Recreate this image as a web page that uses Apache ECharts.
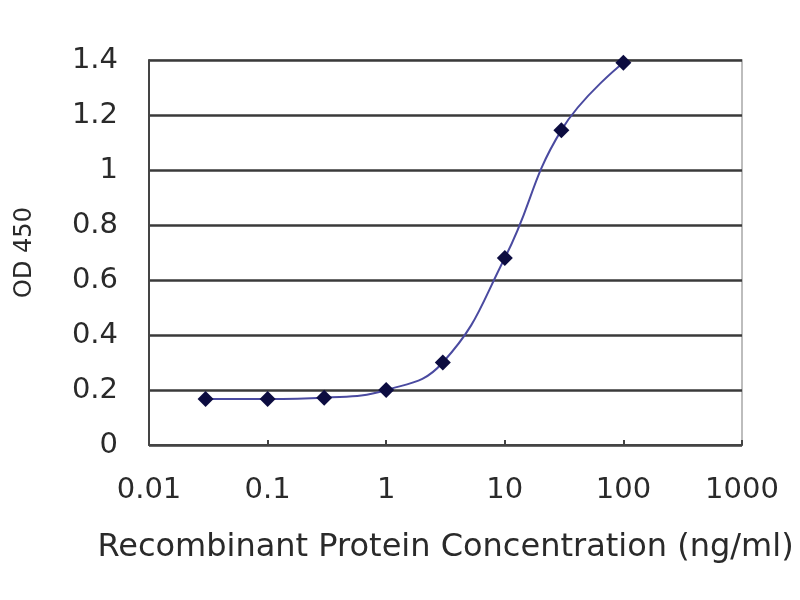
<!DOCTYPE html>
<html>
<head>
<meta charset="utf-8">
<script src="https://cdn.jsdelivr.net/npm/echarts@6/dist/echarts.min.js"></script>
<style>html,body{margin:0;padding:0;background:#fff;}#c{width:800px;height:600px;}</style>
</head>
<body>
<div id="c"></div>
<script>
var concentrations = [0.03, 0.1, 0.3, 1, 3, 10, 30, 100];
var od450 = [0.167, 0.167, 0.172, 0.2, 0.3, 0.68, 1.145, 1.39];
var xTickLabels = {0.01: '0.01', 0.1: '0.1', 1: '1', 10: '10', 100: '100', 1000: '1000'};
var xTitle = 'Recombinant Protein Concentration (ng/ml)';
var yTitle = 'OD 450';

var points = concentrations.map(function (c, i) { return [c, od450[i]]; });
var chart = echarts.init(document.getElementById('c'));
var font = 'DejaVu Sans';
chart.setOption({
  backgroundColor: '#ffffff',
  animation: false,
  grid: { left: 149, right: 58, top: 60, bottom: 155, show: true, borderColor: '#a8a8a8', borderWidth: 1.5, backgroundColor: '#fff' },
  xAxis: {
    type: 'log', logBase: 10, min: 0.01, max: 1000,
    name: xTitle, nameLocation: 'middle', nameGap: 87,
    nameTextStyle: { fontFamily: font, fontSize: 32, color: '#2a2a2a' },
    axisLine: { show: true, lineStyle: { color: '#444', width: 2 } },
    axisTick: { show: true, inside: true, length: 5, lineStyle: { color: '#444', width: 2 } },
    minorTick: { show: false },
    splitLine: { show: false },
    axisLabel: { fontFamily: font, fontSize: 29, color: '#2a2a2a', margin: 31,
      formatter: function (v) { var k = Number(v.toPrecision(3)); return xTickLabels[k] !== undefined ? xTickLabels[k] : ''; } }
  },
  yAxis: {
    type: 'value', min: 0, max: 1.4, interval: 0.2,
    name: yTitle, nameLocation: 'middle', nameGap: 112,
    nameTextStyle: { fontFamily: font, fontSize: 24, color: '#2a2a2a' },
    axisLine: { show: true, lineStyle: { color: '#444', width: 2 } },
    axisTick: { show: false },
    splitLine: { show: true, lineStyle: { color: '#3a3a3a', width: 2.5 } },
    axisLabel: { fontFamily: font, fontSize: 29, color: '#2a2a2a', margin: 31,
      formatter: function (v) { return String(Number(v.toFixed(1))); } }
  },
  series: [{
    type: 'line',
    data: points,
    smooth: 0.45,
    symbol: 'diamond',
    symbolSize: 16,
    itemStyle: { color: '#0c0c40' },
    lineStyle: { color: '#4a4aa0', width: 2 }
  }]
});
</script>
</body>
</html>
